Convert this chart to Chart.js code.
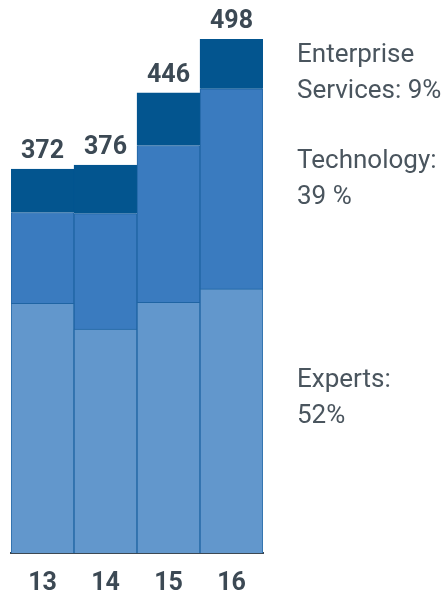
<!DOCTYPE html>
<html>
<head>
<meta charset="utf-8">
<script src="https://cdn.jsdelivr.net/npm/chart.js@4"></script>
<style>
    body { margin: 0; background: #ffffff; }
    #wrap { position: relative; width: 447px; height: 597px; overflow: hidden; }
    #chart { position: absolute; left: 0; top: 0; }
    .note {
        position: absolute;
        left: 297px;
        font-family: Roboto, sans-serif;
        font-size: 26px;
        line-height: 36px;
        color: #4a555e;
        white-space: nowrap;
    }
</style>
</head>
<body>
<div id="wrap">
    <canvas id="chart" width="447" height="597"></canvas>
</div>
<script>
// years on the x axis
var years = ['13', '14', '15', '16'];

// stacked segments, bottom to top
var experts = [242, 217, 243, 256];
var technology = [88, 112, 152, 194];
var enterprise = [42, 47, 51, 48];

// totals printed above each bar
var totals = [372, 376, 446, 498];

// side notes, one array of lines per segment
var noteLines = [
    ['Enterprise', 'Services: 9%'],
    ['Technology:', '39 %'],
    ['Experts:', '52%']
];
var noteTops = [35, 141, 360];

var yMax = 536;

// side notes as plain text
var wrap = document.getElementById('wrap');
noteLines.forEach(function (lines, i) {
    var div = document.createElement('div');
    div.className = 'note';
    div.style.top = noteTops[i] + 'px';
    div.innerHTML = lines.join('<br>');
    wrap.appendChild(div);
});

// totals above the top segment
var totalLabels = {
    id: 'totalLabels',
    afterDatasetsDraw: function (chart) {
        var ctx = chart.ctx;
        var meta = chart.getDatasetMeta(chart.data.datasets.length - 1);
        ctx.save();
        ctx.font = 'bold 25px Roboto, sans-serif';
        ctx.fillStyle = '#3c4954';
        ctx.textAlign = 'center';
        ctx.textBaseline = 'alphabetic';
        meta.data.forEach(function (bar, i) {
            ctx.fillText(String(totals[i]), bar.x, bar.y - 11);
        });
        ctx.restore();
    }
};

var chart = new Chart(document.getElementById('chart'), {
    type: 'bar',
    data: {
        labels: years,
        datasets: [{
            label: 'Experts',
            data: experts,
            backgroundColor: '#6297cc',
            borderColor: '#1f64a3',
            borderWidth: 1
        }, {
            label: 'Technology',
            data: technology,
            backgroundColor: '#3a7bbf',
            borderColor: '#1f64a3',
            borderWidth: 1
        }, {
            label: 'Enterprise Services',
            data: enterprise,
            backgroundColor: '#03558f',
            borderColor: '#03558f',
            borderWidth: 1
        }]
    },
    options: {
        responsive: false,
        devicePixelRatio: 1,
        animation: false,
        layout: {
            padding: { left: 11, right: 184, top: 0, bottom: 0 }
        },
        datasets: {
            bar: {
                barPercentage: 1,
                categoryPercentage: 1
            }
        },
        plugins: {
            legend: { display: false },
            tooltip: { enabled: false }
        },
        scales: {
            x: {
                stacked: true,
                grid: { display: false, drawTicks: false },
                border: { display: true, color: '#3d4852', width: 2 },
                ticks: {
                    padding: 16,
                    color: '#3c4954',
                    font: { family: 'Roboto', size: 25, weight: 'bold' }
                },
                afterFit: function (scale) {
                    scale.height = 44;
                }
            },
            y: {
                stacked: true,
                display: false,
                min: 0,
                max: yMax
            }
        }
    },
    plugins: [totalLabels]
});
</script>
</body>
</html>
